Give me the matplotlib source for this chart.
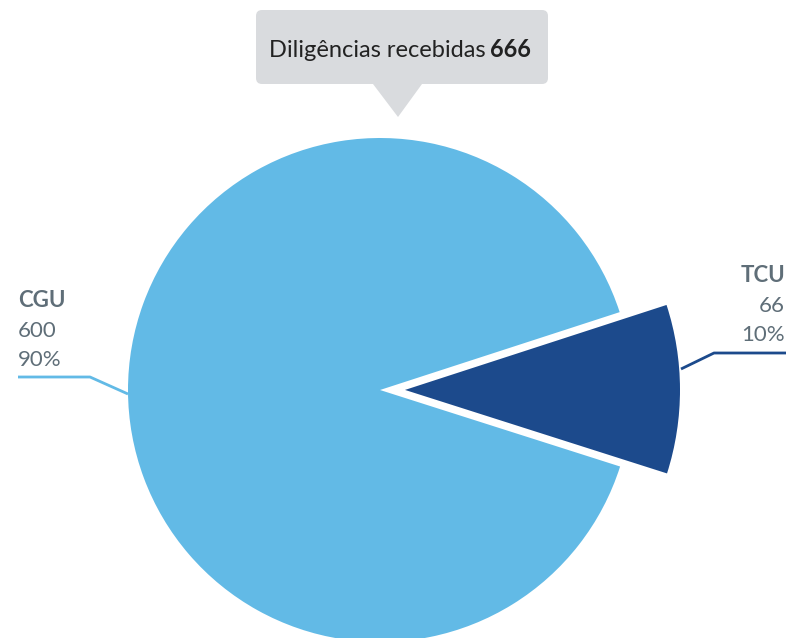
import matplotlib.pyplot as plt
from matplotlib.patches import FancyBboxPatch, Polygon

# data
labels = ['CGU', 'TCU']
values = [600, 66]
colors = ['#62bae6', '#1c4a8c']
total = sum(values)

W, H = 788, 638


def py(y):
    # pixel row (from top) -> data y
    return H - y


fig = plt.figure(figsize=(W / 100, H / 100), dpi=100)
ax = fig.add_axes([0, 0, 1, 1])

plt.rcParams['font.family'] = ['Lato', 'DejaVu Sans']

# pie: TCU slice centered on the right, pulled out and enlarged (hover state)
r = 252
wedges, _ = ax.pie(values, colors=colors, radius=r, center=(380, py(390)),
                   startangle=18, explode=[0, 25], frame=True,
                   wedgeprops=dict(linewidth=0))
wedges[1].set_radius(275)
ax.set_xlim(0, W)
ax.set_ylim(0, H)
ax.set_aspect('auto')
ax.axis('off')

lbl_col = '#5f6e78'
fs = 16

# CGU label
ax.plot([18, 90, 128], [py(377), py(377), py(394)], color=colors[0], lw=2,
        solid_capstyle='butt')
ax.text(18, py(307), labels[0], fontsize=fs, fontweight='bold', color=lbl_col,
        ha='left', va='baseline')
ax.text(18, py(337), str(values[0]), fontsize=fs, color=lbl_col,
        ha='left', va='baseline')
ax.text(18, py(366), f'{values[0] / total:.0%}', fontsize=fs,
        color=lbl_col, ha='left', va='baseline')

# TCU label
ax.plot([786, 714, 681], [py(353), py(353), py(369)], color=colors[1], lw=2,
        solid_capstyle='butt')
ax.text(785, py(282), labels[1], fontsize=fs, fontweight='bold', color=lbl_col,
        ha='right', va='baseline')
ax.text(785, py(312), str(values[1]), fontsize=fs, color=lbl_col,
        ha='right', va='baseline')
ax.text(785, py(341), f'{values[1] / total:.0%}', fontsize=fs,
        color=lbl_col, ha='right', va='baseline')

# tooltip
box = FancyBboxPatch((260, py(80)), 284, 66,
                     boxstyle='round,pad=4,rounding_size=6',
                     fc='#d9dbde', ec='none')
ax.add_patch(box)
ax.add_patch(Polygon([(373, py(84)), (422, py(84)), (398, py(117))],
                     closed=True, fc='#d9dbde', ec='none'))
ax.text(486, py(57), 'Diligências recebidas', fontsize=17, color='#222222',
        ha='right', va='baseline')
ax.text(490, py(57), str(total), fontsize=17, fontweight='bold', color='#222222',
        ha='left', va='baseline')

fig.savefig('out.png', dpi=100)
